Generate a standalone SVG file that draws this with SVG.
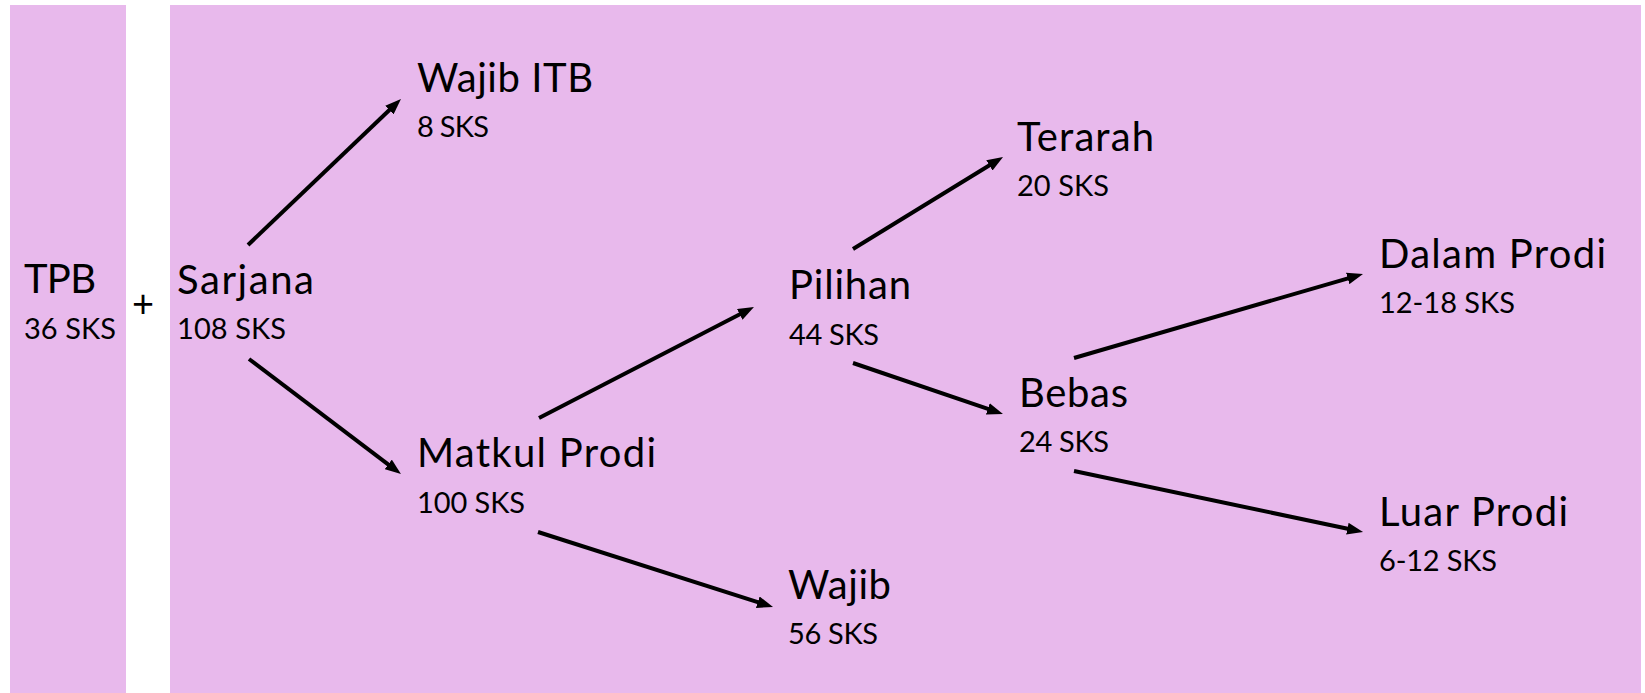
<svg xmlns="http://www.w3.org/2000/svg" width="1645" height="693" viewBox="0 0 1645 693">
<defs>
<style>
.bg{fill:#E8B9EC}
.t{font-family:Lato,"Open Sans","Liberation Sans",sans-serif;fill:#000}
.big{font-size:40px}
.small{font-size:29px}
.c{stroke:#000;stroke-width:4;fill:none}
</style>
<marker id="ah" markerUnits="userSpaceOnUse" markerWidth="16" markerHeight="12" refX="4" refY="6" orient="auto">
<path d="M0,0 L16,6 L0,12 z" fill="#000"/>
</marker>
</defs>
<rect width="1645" height="693" fill="#fff"/>
<rect class="bg" x="10" y="5" width="116" height="688"/>
<rect class="bg" x="170" y="5" width="1471" height="688"/>
<g id="connectors">
<path class="c" d="M248,245 L392.3,107.3" marker-end="url(#ah)"/>
<path class="c" d="M249,359 L391.4,466.8" marker-end="url(#ah)"/>
<path class="c" d="M539,418 L743.3,312.5" marker-end="url(#ah)"/>
<path class="c" d="M538,532 L761.6,603.4" marker-end="url(#ah)"/>
<path class="c" d="M853,249 L992.8,163.3" marker-end="url(#ah)"/>
<path class="c" d="M853,363 L991.6,410.1" marker-end="url(#ah)"/>
<path class="c" d="M1074,358 L1351.5,277.3" marker-end="url(#ah)"/>
<path class="c" d="M1074,471 L1351.3,529.5" marker-end="url(#ah)"/>
</g>
<g id="plus"><text class="t" x="143" y="317" font-size="38" text-anchor="middle">+</text></g>
<g id="tpb">
<text class="t big" x="24" y="293" textLength="72" lengthAdjust="spacing">TPB</text>
<text class="t small" x="24" y="339" textLength="92" lengthAdjust="spacing">36 SKS</text>
</g>
<g id="sarjana">
<text class="t big" x="177" y="294" textLength="137" lengthAdjust="spacing">Sarjana</text>
<text class="t small" x="177" y="339" textLength="109" lengthAdjust="spacing">108 SKS</text>
</g>
<g id="wajib-itb">
<text class="t big" x="417" y="92" textLength="176" lengthAdjust="spacing">Wajib ITB</text>
<text class="t small" x="417" y="137" textLength="72" lengthAdjust="spacing">8 SKS</text>
</g>
<g id="matkul-prodi">
<text class="t big" x="417" y="467" textLength="239" lengthAdjust="spacing">Matkul Prodi</text>
<text class="t small" x="417" y="513" textLength="108" lengthAdjust="spacing">100 SKS</text>
</g>
<g id="pilihan">
<text class="t big" x="789" y="299" textLength="122" lengthAdjust="spacing">Pilihan</text>
<text class="t small" x="789" y="345" textLength="90" lengthAdjust="spacing">44 SKS</text>
</g>
<g id="wajib">
<text class="t big" x="788" y="599" textLength="103" lengthAdjust="spacing">Wajib</text>
<text class="t small" x="788" y="644" textLength="90" lengthAdjust="spacing">56 SKS</text>
</g>
<g id="terarah">
<text class="t big" x="1017" y="151" textLength="137" lengthAdjust="spacing">Terarah</text>
<text class="t small" x="1017" y="196" textLength="92" lengthAdjust="spacing">20 SKS</text>
</g>
<g id="bebas">
<text class="t big" x="1019" y="407" textLength="109" lengthAdjust="spacing">Bebas</text>
<text class="t small" x="1019" y="452" textLength="90" lengthAdjust="spacing">24 SKS</text>
</g>
<g id="dalam-prodi">
<text class="t big" x="1379" y="268" textLength="227" lengthAdjust="spacing">Dalam Prodi</text>
<text class="t small" x="1379" y="313" textLength="136" lengthAdjust="spacing">12-18 SKS</text>
</g>
<g id="luar-prodi">
<text class="t big" x="1379" y="526" textLength="189" lengthAdjust="spacing">Luar Prodi</text>
<text class="t small" x="1379" y="571" textLength="118" lengthAdjust="spacing">6-12 SKS</text>
</g>
</svg>
